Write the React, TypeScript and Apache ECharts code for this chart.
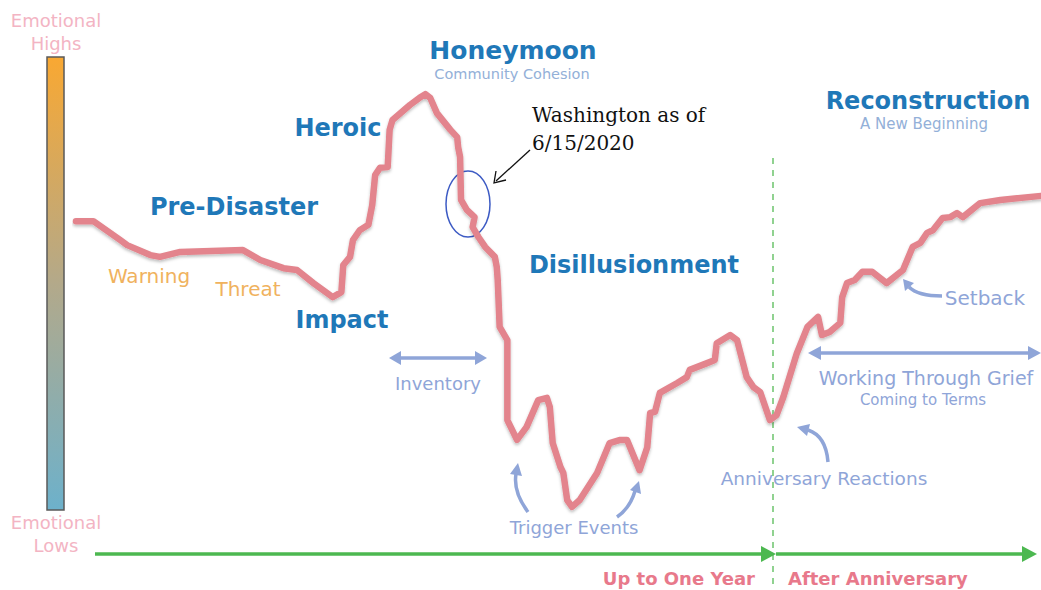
import React, { useEffect, useRef } from "react";
import * as echarts from "echarts";

// Timeline position (% of the drawn period) and emotional level (0 = lows, 100 = highs)
const timeline = [0, 1.8, 4.6, 5.3, 7.7, 8.7, 10.8, 17.3, 19.1, 21.5, 22.9, 24.6, 26.6, 27.5, 27.7, 28.4, 28.7, 29.4, 30.3, 30.7, 31.0, 31.5, 32.3, 32.5, 32.8, 34.6, 35.6, 36.2, 36.7, 37.4, 38.8, 39.5, 39.6, 39.8, 39.9, 40.5, 41.3, 41.1, 41.7, 42.4, 43.4, 43.6, 43.7, 43.9, 44.7, 44.7, 45.7, 46.7, 47.9, 48.8, 49.1, 49.4, 50.2, 50.5, 50.9, 51.4, 52.2, 54.0, 55.3, 56.4, 57.1, 58.4, 59.2, 59.5, 60.0, 60.5, 62.3, 63.3, 63.6, 65.4, 66.2, 66.4, 67.8, 68.5, 69.5, 70.2, 70.9, 71.9, 72.6, 73.3, 74.7, 75.8, 76.9, 77.3, 78.1, 79.2, 79.4, 79.9, 80.7, 81.5, 82.5, 84.0, 85.7, 86.7, 87.5, 88.2, 88.8, 89.8, 90.6, 91.3, 91.9, 93.7, 95.8, 100];
const emotion = [63.9, 63.9, 59.7, 58.6, 56.4, 56.0, 57.1, 57.5, 55.3, 53.5, 53.1, 50.2, 47.1, 48.2, 54.2, 56.0, 59.7, 61.9, 63.1, 67.5, 74.1, 75.7, 75.9, 84.1, 86.3, 89.6, 91.2, 92.0, 91.2, 87.8, 84.1, 82.5, 80.3, 78.1, 68.6, 66.4, 64.8, 62.6, 60.4, 58.2, 56.0, 53.8, 50.9, 40.5, 37.6, 19.9, 15.5, 18.4, 24.3, 24.8, 22.8, 14.8, 9.5, 8.2, 2.2, 0.7, 2.2, 8.2, 14.8, 15.5, 15.5, 8.8, 13.9, 21.5, 21.7, 25.9, 28.1, 29.4, 31.0, 32.5, 33.2, 36.9, 38.7, 37.6, 29.4, 27.2, 26.1, 19.9, 21.0, 25.0, 34.7, 40.5, 42.7, 38.7, 39.4, 41.4, 47.1, 50.2, 50.9, 52.7, 52.7, 50.2, 53.1, 58.2, 59.1, 61.3, 61.9, 64.6, 64.8, 65.7, 64.8, 67.9, 68.6, 69.5];

const scaleLabels = { high: ["Emotional", "Highs"], low: ["Emotional", "Lows"] };
const phaseLabels = ["Pre-Disaster", "Impact", "Heroic", "Honeymoon", "Disillusionment", "Reconstruction"];
const subLabels = ["Community Cohesion", "A New Beginning", "Coming to Terms"];
const eventLabels = ["Warning", "Threat", "Inventory", "Trigger Events", "Anniversary Reactions", "Setback", "Working Through Grief"];
const periodLabels = ["Up to One Year", "After Anniversary"];
const noteLines = ["Washington as of", "6/15/2020"];

const FONT = "'DejaVu Sans', sans-serif";
const BLUE = "#1f78b8";
const LIGHT = "#8fa5d8";
const ORANGE = "#f0b25e";
const PINK = "#e8798b";
const SOFTPINK = "#f3b4c3";
const GREEN = "#4cb850";

function txt(text: string, x: number, y: number, fill: string, size: number, weight = "normal", align = "center", family = FONT) {
  return {
    type: "text",
    silent: true,
    style: { text, x, y, fill, font: `${weight} ${size}px ${family}`, textAlign: align, textVerticalAlign: "middle" },
  };
}
function tri(points: number[][], fill: string) {
  return { type: "polygon", silent: true, shape: { points }, style: { fill } };
}
function seg(x1: number, y1: number, x2: number, y2: number, stroke: string, lineWidth: number, lineDash?: number[]) {
  return { type: "line", silent: true, shape: { x1, y1, x2, y2 }, style: { stroke, lineWidth, lineDash } };
}
function curve(x1: number, y1: number, cpx1: number, cpy1: number, x2: number, y2: number) {
  return { type: "bezierCurve", silent: true, shape: { x1, y1, cpx1, cpy1, x2, y2 }, style: { stroke: LIGHT, lineWidth: 3.5, fill: "none" } };
}

export default function App() {
  const ref = useRef<HTMLDivElement>(null);
  useEffect(() => {
    if (!ref.current) return;
    const chart = echarts.init(ref.current, null, { renderer: "svg" });
    const data = timeline.map((t, i) => [t, emotion[i]]);
    const graphic: any[] = [
      // emotional scale bar
      {
        type: "rect", silent: true, shape: { x: 47, y: 57, width: 17, height: 453 },
        style: {
          fill: new echarts.graphic.LinearGradient(0, 0, 0, 1, [
            { offset: 0, color: "#f9a832" },
            { offset: 0.5, color: "#b3a98a" },
            { offset: 1, color: "#6db1cb" },
          ]),
          stroke: "#5a5a5a", lineWidth: 1.5,
        },
      },
      txt(scaleLabels.high[0], 56, 20, SOFTPINK, 18),
      txt(scaleLabels.high[1], 56, 43, SOFTPINK, 18),
      txt(scaleLabels.low[0], 56, 522, SOFTPINK, 18),
      txt(scaleLabels.low[1], 56, 545, SOFTPINK, 18),
      // phases
      txt(phaseLabels[0], 234, 207, BLUE, 24, "bold"),
      txt(phaseLabels[1], 342, 320, BLUE, 24, "bold"),
      txt(phaseLabels[2], 338, 128, BLUE, 24, "bold"),
      txt(phaseLabels[3], 513, 50, BLUE, 25, "bold"),
      txt(phaseLabels[4], 634, 265, BLUE, 24, "bold"),
      txt(phaseLabels[5], 928, 101, BLUE, 24, "bold"),
      txt(subLabels[0], 512, 74, "#93b0d8", 14.5),
      txt(subLabels[1], 924, 124, "#93b0d8", 15),
      txt(subLabels[2], 923, 400, LIGHT, 15),
      // events
      txt(eventLabels[0], 149, 276, ORANGE, 20),
      txt(eventLabels[1], 248, 289, ORANGE, 20),
      txt(eventLabels[2], 438, 383, LIGHT, 18),
      txt(eventLabels[3], 574, 527, LIGHT, 18),
      txt(eventLabels[4], 824, 478, LIGHT, 18.5),
      txt(eventLabels[5], 985, 298, LIGHT, 20),
      txt(eventLabels[6], 926, 378, LIGHT, 19),
      // note
      txt(noteLines[0], 532, 115, "#111", 20, "normal", "left", "'DejaVu Serif', serif"),
      txt(noteLines[1], 532, 143, "#111", 20, "normal", "left", "'DejaVu Serif', serif"),
      seg(530, 150, 496, 181, "#111", 1.3),
      { type: "polyline", silent: true, shape: { points: [[496, 171], [494, 183], [506, 180]] }, style: { stroke: "#111", lineWidth: 1.3, fill: "none" } },
      { type: "ellipse", silent: true, shape: { cx: 468, cy: 204, rx: 22, ry: 33 }, style: { stroke: "#3d5bc4", lineWidth: 1.5, fill: "none" } },
      // double arrows
      seg(398, 358, 478, 358, LIGHT, 3.5),
      tri([[389, 358], [401, 351], [401, 365]], LIGHT),
      tri([[487, 358], [475, 351], [475, 365]], LIGHT),
      seg(818, 353, 1030, 353, LIGHT, 3.5),
      tri([[808, 353], [821, 346], [821, 360]], LIGHT),
      tri([[1041, 353], [1028, 346], [1028, 360]], LIGHT),
      // curved arrows
      curve(528, 512, 513, 492, 516, 474),
      tri([[518, 463], [522, 476], [510, 474]], LIGHT),
      curve(617, 517, 630, 508, 635, 491),
      tri([[639, 481], [641, 494], [630, 490]], LIGHT),
      curve(828, 462, 826, 436, 808, 430),
      tri([[797, 427], [810, 424], [807, 436]], LIGHT),
      curve(942, 296, 918, 296, 909, 287),
      tri([[903, 279], [914, 283], [905, 291]], LIGHT),
      // anniversary marker and timeline
      seg(773, 158, 773, 590, "#6cc36c", 1.5, [6, 6]),
      seg(95, 554, 763, 554, GREEN, 3.5),
      tri([[776, 554], [761, 546], [761, 562]], GREEN),
      seg(776, 554, 1025, 554, GREEN, 3.5),
      tri([[1037, 554], [1022, 546], [1022, 562]], GREEN),
      txt(periodLabels[0], 755, 578, PINK, 18, "bold", "right"),
      txt(periodLabels[1], 788, 578, PINK, 18, "bold", "left"),
    ];
    chart.setOption({
      animation: false,
      grid: { left: 76, right: 0, top: 58, bottom: 80 },
      xAxis: { type: "value", min: 0, max: 100, show: false },
      yAxis: { type: "value", min: 0, max: 100, show: false },
      series: [
        {
          type: "line",
          data,
          symbol: "none",
          clip: false,
          lineStyle: { color: "#e3848d", width: 6.5, join: "round", cap: "round", shadowColor: "rgba(0,0,0,0.25)", shadowBlur: 3, shadowOffsetY: 2 },
          z: 5,
        },
      ],
      graphic,
    });
    return () => chart.dispose();
  }, []);
  return <div ref={ref} style={{ position: "fixed", left: 0, top: 0, width: 1041, height: 590, background: "#fff" }} />;
}
